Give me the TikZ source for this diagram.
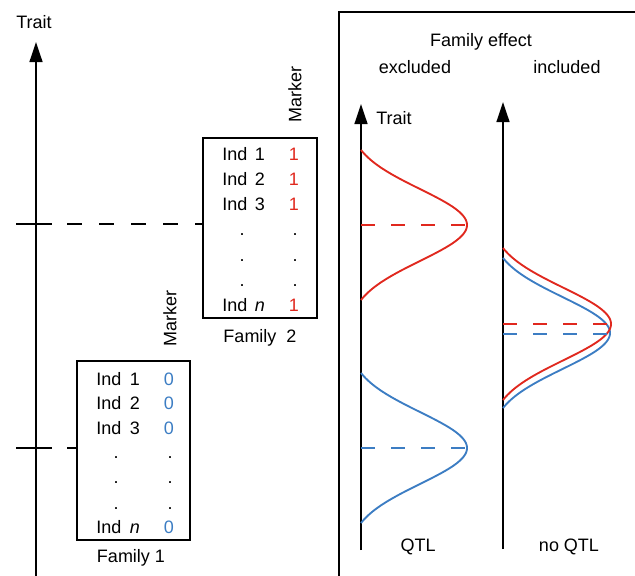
\documentclass[tikz,border=0pt]{standalone}
\usepackage{fontspec}
\setmainfont{Liberation Sans}
\usetikzlibrary{arrows.meta}
\definecolor{qred}{RGB}{224,40,30}
\definecolor{qblue}{RGB}{60,125,195}
\begin{document}
\begin{tikzpicture}[x=0.75pt,y=-0.75pt,
  every node/.style={font=\fontsize{13.5}{16}\selectfont, inner sep=0pt},
  lbl/.style={anchor=base},
  lblw/.style={anchor=base west},
  axisarrow/.style={line width=1.8pt, -{Triangle[length=15pt,width=9.5pt]}},
  famboxstyle/.style={draw, line width=1.5pt, rectangle},
  tickline/.style={line width=1.5pt},
  famdash/.style={line width=1.5pt, dash pattern=on 11.25pt off 12.75pt},
  meandash/.style={line width=1.5pt, dash pattern=on 10.5pt off 12pt},
  curve/.style={line width=1.4pt},
  rotlbl/.style={rotate=90, anchor=center}]
\useasboundingbox (0,0) rectangle (635,575);

% ---------- left trait axis ----------
\coordinate (axL0) at (36,576);
\coordinate (axL1) at (36,42);
\draw[axisarrow] (axL0) -- (axL1);
\node[lbl] (traitL) at (34,28) {Trait};

% ---------- family boxes ----------
\node[famboxstyle, minimum width=85.5pt, minimum height=135pt] (box2) at (260,228) {};
\node[famboxstyle, minimum width=84.75pt, minimum height=134.25pt] (box1) at (133.5,450.5) {};

% ticks and dashed connectors
\coordinate (t2a) at (16,224);
\coordinate (t2b) at (52,224);
\coordinate (t2c) at (67,224);
\draw[tickline] (t2a) -- (t2b);
\draw[famdash] (t2c) -- (box2.west |- t2c);
\coordinate (t1a) at (16,448);
\coordinate (t1b) at (52,448);
\coordinate (t1c) at (67,448);
\draw[tickline] (t1a) -- (t1b);
\draw[famdash] (t1c) -- (box1.west |- t1c);

% family 2 contents
\node[rotlbl] (mk2) at (295,94) {Marker};
\node[lblw] (f2i1) at (222,160) {Ind};
\node[lbl]  (f2n1) at (260,160) {1};
\node[lbl, text=qred] (f2m1) at (294,160) {1};
\node[lblw] (f2i2) at (222,185) {Ind};
\node[lbl]  (f2n2) at (260,185) {2};
\node[lbl, text=qred] (f2m2) at (294,185) {1};
\node[lblw] (f2i3) at (222,210) {Ind};
\node[lbl]  (f2n3) at (260,210) {3};
\node[lbl, text=qred] (f2m3) at (294,210) {1};
\node[lbl] (f2d1a) at (242,235) {.};
\node[lbl] (f2d1b) at (295,235) {.};
\node[lbl] (f2d2a) at (242,261) {.};
\node[lbl] (f2d2b) at (295,261) {.};
\node[lbl] (f2d3a) at (242,286) {.};
\node[lbl] (f2d3b) at (295,286) {.};
\node[lblw] (f2in) at (222,311) {Ind};
\node[lbl]  (f2nn) at (260,311) {\itshape n};
\node[lbl, text=qred] (f2mn) at (294,311) {1};
\node[lbl] (fam2) at (260,342) {Family\ \ 2};

% family 1 contents
\node[rotlbl] (mk1) at (170,318) {Marker};
\node[lblw] (f1i1) at (96,385) {Ind};
\node[lbl]  (f1n1) at (135,385) {1};
\node[lbl, text=qblue] (f1m1) at (169,385) {0};
\node[lblw] (f1i2) at (96,409) {Ind};
\node[lbl]  (f1n2) at (135,409) {2};
\node[lbl, text=qblue] (f1m2) at (169,409) {0};
\node[lblw] (f1i3) at (96,434) {Ind};
\node[lbl]  (f1n3) at (135,434) {3};
\node[lbl, text=qblue] (f1m3) at (169,434) {0};
\node[lbl] (f1d1a) at (116,458) {.};
\node[lbl] (f1d1b) at (170,458) {.};
\node[lbl] (f1d2a) at (116,483) {.};
\node[lbl] (f1d2b) at (170,483) {.};
\node[lbl] (f1d3a) at (116,509) {.};
\node[lbl] (f1d3b) at (170,509) {.};
\node[lblw] (f1in) at (96,533) {Ind};
\node[lbl]  (f1nn) at (135,533) {\itshape n};
\node[lbl, text=qblue] (f1mn) at (169,533) {0};
\node[lbl] (fam1) at (131,562) {Family 1};

% ---------- right panel ----------
\coordinate (pBL) at (339,577);
\coordinate (pTL) at (339,12);
\coordinate (pTR) at (637,12);
\draw[line width=1.5pt] (pBL) -- (pTL) -- (pTR);
\node[lbl] (feff) at (481,46) {Family effect};
\node[lbl] (excl) at (415,73) {excluded};
\node[lbl] (incl) at (567,73) {included};

\coordinate (axA0) at (361,550);
\coordinate (axA1) at (361,104);
\draw[axisarrow] (axA0) -- (axA1);
\node[lblw] (traitR) at (376,124) {Trait};
\coordinate (axB0) at (503,549);
\coordinate (axB1) at (503,102);
\draw[axisarrow] (axB0) -- (axB1);
\node[lbl] (qtl) at (418,551) {QTL};
\node[lbl] (noqtl) at (569,551) {no QTL};

% excluded: red and blue distributions
\draw[qred, curve] plot[domain=-75:75, samples=90, smooth]
  ({361+106*(exp(-(\x*\x)/2592)-0.114)/0.886}, {225+\x});
\draw[qred, meandash] (361,225) -- (467,225);
\draw[qblue, curve] plot[domain=-75:75, samples=90, smooth]
  ({361+106*(exp(-(\x*\x)/2592)-0.114)/0.886}, {448+\x});
\draw[qblue, meandash] (361,448) -- (467,448);

% included: overlapping distributions
\draw[qblue, curve] plot[domain=-75:75, samples=90, smooth]
  ({503+107*(exp(-(\x*\x)/2592)-0.114)/0.886}, {333+\x});
\draw[qred, curve] plot[domain=-76:76, samples=90, smooth]
  ({503+108*(exp(-(\x*\x)/2650)-0.113)/0.887}, {324+\x});
\draw[qred, meandash] (503,324) -- (611,324);
\draw[qblue, meandash] (503,334) -- (610,334);
\end{tikzpicture}
\end{document}
